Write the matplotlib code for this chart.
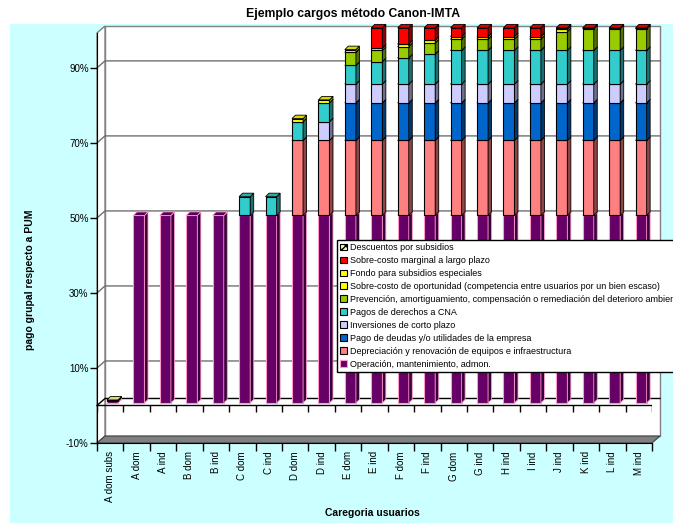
import matplotlib
matplotlib.use('Agg')
import matplotlib.pyplot as plt
from matplotlib.patches import Polygon, Patch, Rectangle
from matplotlib.transforms import offset_copy
from matplotlib.ticker import FuncFormatter
from matplotlib.colors import to_rgb
import numpy as np

plt.rcParams['font.family'] = ['Liberation Sans', 'DejaVu Sans']

cats = ['A dom subs', 'A dom', 'A ind', 'B dom', 'B ind', 'C dom', 'C ind',
        'D dom', 'D ind', 'E dom', 'E ind', 'F dom', 'F ind', 'G dom',
        'G ind', 'H ind', 'I ind', 'J ind', 'K ind', 'L ind', 'M ind']

operacion = [0.005, 0.50, 0.50, 0.50, 0.50, 0.50, 0.50, 0.50, 0.50, 0.50, 0.50,
             0.50, 0.50, 0.50, 0.50, 0.50, 0.50, 0.50, 0.50, 0.50, 0.50]
depreciacion = [0, 0, 0, 0, 0, 0, 0, 0.20, 0.20, 0.20, 0.20,
                0.20, 0.20, 0.20, 0.20, 0.20, 0.20, 0.20, 0.20, 0.20, 0.20]
deudas = [0, 0, 0, 0, 0, 0, 0, 0, 0, 0.10, 0.10,
          0.10, 0.10, 0.10, 0.10, 0.10, 0.10, 0.10, 0.10, 0.10, 0.10]
inversiones = [0, 0, 0, 0, 0, 0, 0, 0, 0.05, 0.05, 0.05,
               0.05, 0.05, 0.05, 0.05, 0.05, 0.05, 0.05, 0.05, 0.05, 0.05]
derechos = [0, 0, 0, 0, 0, 0.05, 0.05, 0.05, 0.05, 0.05, 0.06,
            0.07, 0.08, 0.09, 0.09, 0.09, 0.09, 0.09, 0.09, 0.09, 0.09]
prevencion = [0, 0, 0, 0, 0, 0, 0, 0, 0, 0.035, 0.03,
              0.03, 0.03, 0.03, 0.03, 0.03, 0.03, 0.05, 0.058, 0.058, 0.058]
oportunidad = [0, 0, 0, 0, 0, 0, 0, 0.008, 0.008, 0.007, 0.006,
               0.007, 0.007, 0.007, 0.007, 0.007, 0.007, 0.006, 0, 0, 0]
fondo = [0, 0, 0, 0, 0, 0, 0, 0, 0, 0, 0,
         0, 0, 0, 0, 0, 0, 0, 0, 0, 0]
marginal = [0, 0, 0, 0, 0, 0, 0, 0, 0, 0, 0.054,
            0.043, 0.033, 0.023, 0.023, 0.023, 0.023, 0.004, 0.002, 0.002, 0.002]
descuentos = [0.003, 0, 0, 0, 0, 0, 0, 0, 0, 0, 0,
              0, 0, 0, 0, 0, 0, 0, 0, 0, 0]

series = [
    ('Operación, mantenimiento, admon.', operacion, '#660066'),
    ('Depreciación y renovación de equipos e infraestructura', depreciacion, '#FF8080'),
    ('Pago de deudas y/o utilidades de la empresa', deudas, '#0066CC'),
    ('Inversiones de corto plazo', inversiones, '#CCCCFF'),
    ('Pagos de derechos a CNA', derechos, '#33CCCC'),
    ('Prevención, amortiguamiento, compensación o remediación del deterioro ambiental', prevencion, '#99CC00'),
    ('Sobre-costo de oportunidad (competencia entre usuarios por un bien escaso)', oportunidad, '#FFFF00'),
    ('Fondo para subsidios especiales', fondo, '#FFFF00'),
    ('Sobre-costo marginal a largo plazo', marginal, '#FF0000'),
    ('Descuentos por subsidios', descuentos, '#FFFF99'),
]

W, H = 673, 523
fig = plt.figure(figsize=(W / 100, H / 100), dpi=100)
fig.patch.set_facecolor('white')
fig.add_artist(Rectangle((10 / W, 0), 1, 1 - 24 / H, transform=fig.transFigure,
                         facecolor='#CCFFFF', edgecolor='none', zorder=-10))

ax = fig.add_axes([97 / W, 80 / H, 555 / W, 410 / H])
ax.set_facecolor('none')
ymin, ymax = -0.10, 0.993
n = len(cats)
x = np.arange(n)
ax.set_xlim(-0.5, n - 0.5)
ax.set_ylim(ymin, ymax)

# depth of the 3d box (pixels -> data units)
ppx = 555 / n
ppy = 410 / (ymax - ymin)
wdx, wdy = 8 / ppx, 7 / ppy
bdx, bdy = 3.5 / ppx, 3.5 / ppy

# walls and floor
ax.add_patch(Rectangle((-0.5 + wdx, ymin + wdy), n, ymax - ymin,
                       facecolor='white', edgecolor='#808080', lw=1,
                       clip_on=False, zorder=0))
ax.add_patch(Polygon([(-0.5, ymin), (-0.5, ymax), (-0.5 + wdx, ymax + wdy),
                      (-0.5 + wdx, ymin + wdy)], closed=True,
                     facecolor='white', edgecolor='#808080', lw=1,
                     clip_on=False, zorder=0))
ax.add_patch(Polygon([(-0.5, ymin), (n - 0.5, ymin), (n - 0.5 + wdx, ymin + wdy),
                      (-0.5 + wdx, ymin + wdy)], closed=True,
                     facecolor='#808080', edgecolor='#404040', lw=0.8,
                     clip_on=False, zorder=1))

yticks = [-0.10, 0.10, 0.30, 0.50, 0.70, 0.90]
for yv in yticks[1:] + [0.0]:
    c = 'black' if yv == 0 else '#707070'
    ax.plot([-0.5, -0.5 + wdx, n - 0.5 + wdx], [yv, yv + wdy, yv + wdy],
            color=c, lw=1, clip_on=False, zorder=1)

# front zero axis with ticks
ax.plot([-0.5, n - 0.5], [0, 0], color='black', lw=1, zorder=2)
ax.vlines(np.arange(-0.5, n, 1), -7 / ppy, 0, color='black', lw=1, zorder=2)


def shade(c, f):
    r, g, b = to_rgb(c)
    return (r * f, g * f, b * f)


tr = offset_copy(ax.transData, fig=fig, x=2.3, y=2.5, units='dots')
bw = 0.42
base = np.zeros(n)
for label, vals, col in series:
    vals = np.array(vals, dtype=float)
    ec = '#FF99CC' if col == '#660066' else 'black'
    for i in range(n):
        v = vals[i]
        if v <= 0:
            continue
        x0 = x[i] - bw / 2
        x1 = x[i] + bw / 2
        y0 = base[i]
        y1 = base[i] + v
        ax.add_patch(Rectangle((x0, y0), bw, v, facecolor=col, edgecolor=ec, lw=0.8,
                               hatch='xxxx' if label.startswith('Descuentos') else None,
                               transform=tr, clip_on=False, zorder=3))
        ax.add_patch(Polygon([(x1, y0), (x1, y1), (x1 + bdx, y1 + bdy), (x1 + bdx, y0 + bdy)],
                             closed=True, facecolor=shade(col, 0.55), edgecolor=ec,
                             lw=0.6, transform=tr, clip_on=False, zorder=3))
        ax.add_patch(Polygon([(x0, y1), (x1, y1), (x1 + bdx, y1 + bdy), (x0 + bdx, y1 + bdy)],
                             closed=True, facecolor=shade(col, 0.85), edgecolor=ec,
                             lw=0.6, transform=tr, clip_on=False, zorder=3))
    base = base + vals

# axes styling
for s in ['top', 'right']:
    ax.spines[s].set_visible(False)
ax.spines['left'].set_color('black')
ax.spines['bottom'].set_color('black')
ax.spines['left'].set_zorder(4)
ax.set_yticks(yticks)
ax.yaxis.set_major_formatter(FuncFormatter(lambda v, p: '%d%%' % round(v * 100)))
ax.tick_params(axis='y', length=5, width=1, labelsize=7, pad=1)
ax.set_xticks(np.arange(-0.5, n, 1))
ax.set_xticklabels([])
ax.set_xticks(x, minor=True)
ax.set_xticklabels(cats, minor=True, rotation=90, fontsize=7)
ax.tick_params(axis='x', which='major', length=6, width=1)
ax.tick_params(axis='x', which='minor', length=0, pad=6)

fig.text(353 / W, 1 - 14 / H, 'Ejemplo cargos método Canon-IMTA', ha='center',
         va='center', fontsize=8.8, fontweight='bold')
fig.text(30 / W, 1 - 280 / H, 'pago grupal respecto a PUM', rotation=90,
         ha='center', va='center', fontsize=7.5, fontweight='bold')
fig.text(372 / W, 1 - 513 / H, 'Caregoria usuarios', ha='center', va='center',
         fontsize=7.5, fontweight='bold')

handles = []
for label, vals, col in series[::-1]:
    ec = '#FF99CC' if col == '#660066' else 'black'
    h = Patch(facecolor=col, edgecolor=ec, lw=0.8,
              hatch='xxxx' if label.startswith('Descuentos') else None)
    handles.append(h)
labels = [s[0] for s in series[::-1]]
leg = fig.legend(handles, labels, loc='upper left', bbox_to_anchor=(337 / W, 1 - 240 / H),
                 bbox_transform=fig.transFigure, fontsize=6.5, frameon=True,
                 fancybox=False, edgecolor='black', framealpha=1,
                 handlelength=0.8, handleheight=0.8, handletextpad=0.3,
                 labelspacing=0.44, borderpad=0.35, borderaxespad=0)
leg.get_frame().set_linewidth(1)
leg.set_zorder(10)

fig.savefig('out.png', dpi=100)
